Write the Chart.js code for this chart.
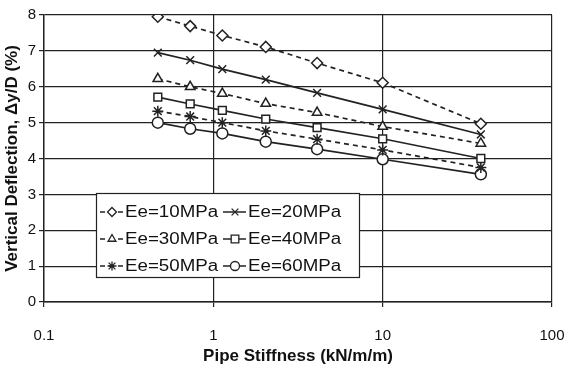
<!DOCTYPE html>
<html>
<head>
<meta charset="utf-8">
<script src="https://cdn.jsdelivr.net/npm/chart.js@4/dist/chart.umd.min.js"></script>
<style>
  html, body { margin: 0; padding: 0; background: #fff; }
  #wrap { width: 566px; height: 371px; position: relative; }
</style>
</head>
<body>
<div id="wrap"><canvas id="deflChart"></canvas></div>
<script>
// pipe stiffness (kN/m/m) of the seven test points
const stiffness = [0.47, 0.73, 1.13, 2.04, 4.1, 10, 38];

// vertical deflection (%) for each soil modulus
const ee10 = [7.95, 7.69, 7.43, 7.11, 6.66, 6.11, 4.97];
const ee20 = [6.95, 6.74, 6.49, 6.20, 5.83, 5.37, 4.67];
const ee30 = [6.22, 6.00, 5.81, 5.53, 5.28, 4.89, 4.42];
const ee40 = [5.71, 5.52, 5.34, 5.10, 4.86, 4.55, 4.00];
const ee50 = [5.32, 5.17, 5.00, 4.77, 4.54, 4.24, 3.75];
const ee60 = [5.00, 4.83, 4.70, 4.47, 4.26, 3.98, 3.56];

const seriesLabels = ['Ee=10MPa', 'Ee=20MPa', 'Ee=30MPa', 'Ee=40MPa', 'Ee=50MPa', 'Ee=60MPa'];
const xTicks = [0.1, 1, 10, 100];
const yTicks = [0, 1, 2, 3, 4, 5, 6, 7, 8];

const ink = '#222';
const font = "Arial, 'Liberation Sans', sans-serif";

function makeSet(label, values, pointStyle, dashed) {
    return {
        label: label,
        data: values.map((v, i) => ({ x: stiffness[i], y: v })),
        borderColor: ink,
        borderWidth: 1.7,
        borderDash: dashed ? [5, 4] : [],
        pointStyle: pointStyle,
        pointRadius: 5.5,
        pointBackgroundColor: '#fff',
        pointBorderColor: ink,
        pointBorderWidth: 1.5,
        tension: 0
    };
}

const datasets = [
    makeSet(seriesLabels[0], ee10, 'rectRot', true),
    makeSet(seriesLabels[1], ee20, 'crossRot', false),
    makeSet(seriesLabels[2], ee30, 'triangle', true),
    makeSet(seriesLabels[3], ee40, 'rect', false),
    makeSet(seriesLabels[4], ee50, 'star', true),
    makeSet(seriesLabels[5], ee60, 'circle', false)
];

// open markers, same shapes as the chart points
function drawMarker(ctx, style, x, y, r) {
    ctx.save();
    ctx.beginPath();
    if (style === 'rectRot') {
        ctx.moveTo(x, y - r); ctx.lineTo(x + r, y); ctx.lineTo(x, y + r); ctx.lineTo(x - r, y); ctx.closePath();
        ctx.fill(); ctx.stroke();
    } else if (style === 'rect') {
        const s = r * 0.85;
        ctx.rect(x - s, y - s, 2 * s, 2 * s);
        ctx.fill(); ctx.stroke();
    } else if (style === 'triangle') {
        const h = r * 1.5 / Math.sqrt(3) * 2;
        ctx.moveTo(x, y - r); ctx.lineTo(x + h / 2, y + r * 0.5); ctx.lineTo(x - h / 2, y + r * 0.5); ctx.closePath();
        ctx.fill(); ctx.stroke();
    } else if (style === 'circle') {
        ctx.arc(x, y, r, 0, Math.PI * 2);
        ctx.fill(); ctx.stroke();
    } else if (style === 'crossRot') {
        const d = r * 0.75;
        ctx.moveTo(x - d, y - d); ctx.lineTo(x + d, y + d);
        ctx.moveTo(x + d, y - d); ctx.lineTo(x - d, y + d);
        ctx.stroke();
    } else if (style === 'star') {
        const d = r * 0.75;
        ctx.moveTo(x - d, y - d); ctx.lineTo(x + d, y + d);
        ctx.moveTo(x + d, y - d); ctx.lineTo(x - d, y + d);
        ctx.moveTo(x, y - r); ctx.lineTo(x, y + r);
        ctx.moveTo(x - r, y); ctx.lineTo(x + r, y);
        ctx.stroke();
    }
    ctx.restore();
}

// boxed legend inside the plot, two columns
const boxLegend = {
    id: 'boxLegend',
    afterDraw(chart) {
        const ctx = chart.ctx;
        const left = 96, top = 193, w = 263, h = 84;
        ctx.save();
        ctx.fillStyle = '#fff';
        ctx.strokeStyle = ink;
        ctx.lineWidth = 1.2;
        ctx.fillRect(left, top, w, h);
        ctx.strokeRect(left + 0.5, top + 0.5, w, h);
        const colX = [100, 223];
        const rowY = [212, 239, 266];
        chart.data.datasets.forEach((ds, i) => {
            const x0 = colX[i % 2];
            const y0 = rowY[Math.floor(i / 2)];
            ctx.strokeStyle = ink;
            ctx.lineWidth = 1.5;
            ctx.setLineDash(ds.borderDash);
            ctx.beginPath();
            ctx.moveTo(x0, y0); ctx.lineTo(x0 + 23, y0);
            ctx.stroke();
            ctx.setLineDash([]);
            ctx.fillStyle = '#fff';
            ctx.lineWidth = 1.3;
            drawMarker(ctx, ds.pointStyle, x0 + 12, y0, 4.5);
            ctx.fillStyle = '#111';
            ctx.font = '16px ' + font;
            ctx.textBaseline = 'middle';
            ctx.save();
            ctx.translate(x0 + 25, y0);
            ctx.scale(1.17, 1);
            ctx.fillText(ds.label, 0, 1);
            ctx.restore();
        });
        ctx.restore();
    }
};

new Chart(document.getElementById('deflChart'), {
    type: 'line',
    data: { datasets: datasets },
    options: {
        responsive: true,
        maintainAspectRatio: false,
        animation: false,
        layout: { padding: { top: 15, right: 0, left: 0, bottom: 0 } },
        plugins: {
            legend: { display: false },
            tooltip: { enabled: false }
        },
        scales: {
            x: {
                type: 'logarithmic',
                min: 0.1,
                max: 100,
                afterBuildTicks: function(scale) {
                    scale.ticks = xTicks.map(v => ({ value: v }));
                },
                afterFit: function(scale) {
                    scale.height = 69;
                    // keep only half the "100" label as right margin
                    scale.paddingLeft = 0;
                    scale.paddingRight = 14;
                },
                ticks: {
                    color: '#111',
                    font: { family: font, size: 15 },
                    padding: 20,
                    maxRotation: 0,
                    autoSkip: false,
                    callback: function(value) { return String(value); }
                },
                grid: {
                    color: ink,
                    lineWidth: 1.2,
                    tickLength: 5,
                    drawTicks: true
                },
                border: { color: ink, width: 1.4 },
                title: {
                    display: true,
                    text: 'Pipe Stiffness (kN/m/m)',
                    color: '#111',
                    font: { family: font, size: 17, weight: 'bold' },
                    padding: { top: 0, bottom: 4 }
                }
            },
            y: {
                min: 0,
                max: 8,
                afterBuildTicks: function(scale) {
                    scale.ticks = yTicks.map(v => ({ value: v }));
                },
                afterFit: function(scale) { scale.width = 44; },
                ticks: {
                    color: '#111',
                    font: { family: font, size: 15 },
                    padding: 3
                },
                grid: {
                    color: ink,
                    lineWidth: 1.2,
                    tickLength: 5
                },
                border: { color: ink, width: 1.4 },
                title: {
                    display: true,
                    text: 'Vertical Deflection, \u0394y/D (%)',
                    color: '#111',
                    font: { family: font, size: 17, weight: 'bold' },
                    padding: { top: 2, bottom: 0 }
                }
            }
        }
    },
    plugins: [boxLegend]
});
</script>
</body>
</html>
